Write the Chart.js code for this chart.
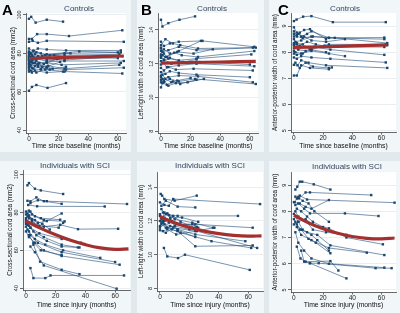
<!DOCTYPE html>
<html>
<head>
<meta charset="utf-8">
<script src="https://cdn.jsdelivr.net/npm/chart.js@4"></script>
<style>
  body { margin: 0; width: 400px; height: 313px; background: #e1e9ed; position: relative; overflow: hidden;
         font-family: "Liberation Sans", Arial, sans-serif; }
  .card { position: absolute; background: #f1f6f8; }
  canvas { position: absolute; }
  .letter { position: absolute; font-weight: bold; font-size: 15px; color: #000; line-height: 1; }
  .ttl { position: absolute; font-size: 8px; color: #34425e; transform: translate(-50%, -50%); white-space: nowrap; }
</style>
</head>
<body>
<div class="card" style="left:0;top:0;width:131px;height:152px"></div>
<div class="card" style="left:137px;top:0;width:127px;height:152px"></div>
<div class="card" style="left:269px;top:0;width:131px;height:152px"></div>
<div class="card" style="left:0;top:161px;width:131px;height:152px"></div>
<div class="card" style="left:137px;top:161px;width:127px;height:152px"></div>
<div class="card" style="left:269px;top:161px;width:131px;height:152px"></div>

<canvas id="a1" width="134" height="153" style="left:0;top:0"></canvas>
<canvas id="b1" width="128" height="153" style="left:137px;top:0"></canvas>
<canvas id="c1" width="132" height="153" style="left:268px;top:0"></canvas>
<canvas id="a2" width="134" height="153" style="left:0;top:160px"></canvas>
<canvas id="b2" width="130" height="153" style="left:137px;top:160px"></canvas>
<canvas id="c2" width="132" height="153" style="left:268px;top:160px"></canvas>

<div class="letter" style="left:2px;top:2px">A</div>
<div class="letter" style="left:141px;top:2px">B</div>
<div class="letter" style="left:278px;top:2px">C</div>

<div class="ttl" style="left:79px;top:8px">Controls</div>
<div class="ttl" style="left:212px;top:8px">Controls</div>
<div class="ttl" style="left:345px;top:8px">Controls</div>
<div class="ttl" style="left:75px;top:165px">Individuals with SCI</div>
<div class="ttl" style="left:210px;top:165px">Individuals with SCI</div>
<div class="ttl" style="left:347px;top:166px">Individuals with SCI</div>

<script>
// tick values
const monthTicks = [0, 20, 40, 60];
const csaTicks = [40, 60, 80, 100];
const lrTicks = [8, 10, 12, 14];
const apTicks = [5, 6, 7, 8, 9];

// controls: each subject = [month, value] visits
const ctrlCsa = [
  [[0,98],[1.5,99],[4.5,96],[12,97.5],[23,96.5]],
  [[0,87.5],[2,87.5],[5.5,90],[12,90],[27,89],[63,92]],
  [[0,86],[2.5,86.5],[6,85.5],[12,86.5],[64,86]],
  [[0,82.5],[3,81],[6,82.5],[12,82],[25,81.5],[62,81.5]],
  [[0,81],[1.5,80],[5,80.5],[11,79],[24,80],[60,80.5]],
  [[0,80],[2,79],[6,78],[12,79.5],[34,81],[62,80.5]],
  [[0,79],[1,78],[4,79.5],[9,78.5],[24,79],[61,79.5]],
  [[0,78],[3,77],[6,78.5],[12,77],[24,76.5],[63,78.5]],
  [[0,77],[1.5,75.5],[5,77],[12,76],[26,77.5],[60,77.5]],
  [[0,76],[2,76.5],[7,75],[12,75.5],[24,76],[64,76]],
  [[0,75],[1,74],[4,73.5],[12,75],[22,74],[62,75]],
  [[0,74],[2,72.5],[6,73],[13,73.5],[24,72],[61,74]],
  [[0,73],[3,72],[8,71.5],[12,72.5],[25,71.5],[64,72.5]],
  [[0,71.5],[1.5,71],[5,70],[11,71.5],[24,70.5],[63,69.5]],
  [[0,70.5],[2,70],[4,71],[12,70],[23,70.5]],
  [[0,80.5],[3,81.5],[8,80],[14,79],[28,80]],
  [[0,78.5],[1,79.5],[3,78],[7,77.5],[17,79],[24,78]],
  [[0,77.5],[2,78],[5,76],[10,74.5],[19,77]],
  [[0,76.5],[1,77],[3,75],[6,74],[12,73],[21,75.5]],
  [[0,74.5],[2.5,75],[6,74.5],[9,73],[16,72]],
  [[0,72.5],[1,73.5],[4,75],[8,72],[14,71.5],[25,73]],
  [[0,60.5],[2,62.5],[5,63.5],[12.5,62],[25,64.5]]
];
const ctrlLr = [
  [[0,14.6],[1,14.2],[5,14.4],[12.5,14.6],[23,14.8]],
  [[0,13.3],[2,13.05],[6,13.2],[12,13.3],[28,13.35],[63,13.0]],
  [[0,13.1],[3,13.45],[8,13.2],[13,13.1],[25,12.9],[62,12.95]],
  [[0,12.9],[1,12.7],[5,12.8],[12,13.0],[24,12.8],[64,12.95]],
  [[0,12.75],[2,12.85],[6,12.6],[11,12.7],[22,12.6],[35,12.85]],
  [[0,12.55],[3,12.4],[9,12.65],[14,12.5],[25,12.4],[63,12.75]],
  [[0,12.35],[1,12.5],[5,12.3],[12,12.2],[24,12.3],[61,12.55]],
  [[0,12.15],[2,12.25],[7,12.0],[12,12.1],[26,12.1],[60,11.95]],
  [[0,11.95],[1.5,12.05],[4,11.8],[12,11.9],[24,12.0],[63,11.85]],
  [[0,11.75],[2,11.6],[5,11.8],[10,11.65],[22,11.7],[62,11.6]],
  [[0,11.5],[3,11.4],[6,11.55],[12,11.45],[24,11.35],[60,11.2]],
  [[0,11.3],[1,11.1],[5,11.2],[12,11.3],[25,11.25],[62,10.9]],
  [[0,11.05],[2,10.9],[6,11.1],[12,10.95],[23,11.1],[64,10.8]],
  [[0,10.6],[1,10.85],[4,10.75],[8,10.95],[13,10.8],[24,11.05]],
  [[0,10.9],[2,11.0],[5,10.7],[10,10.85],[18,10.9],[29,11.1]],
  [[0,12.95],[2,12.6],[4,12.4],[12,12.75],[27,13.35]],
  [[0,11.2],[1,11.35],[3,11.1],[7,10.9],[11,11.0],[20,11.15]],
  [[0,12.45],[2,12.2],[6,12.35],[15,12.1],[24,12.25]]
];
const ctrlAp = [
  [[0,9.19],[1.8,9.25],[6.3,9.36],[12,9.38],[26.7,9.15],[63,9.15]],
  [[0,8.95],[2,8.75],[5,8.6],[9,8.7],[12,8.8],[24,8.55],[62,8.56]],
  [[0,8.7],[2,8.6],[6,8.55],[13,8.6],[24,8.55],[62,8.5]],
  [[0,8.6],[3,8.7],[7,8.6],[12,8.45],[22,8.4],[35,8.5]],
  [[0,8.5],[1,8.4],[5,8.45],[12,8.6],[28,8.55],[64,8.35]],
  [[0,8.35],[2,8.3],[6,8.2],[12,8.15],[24,8.3],[63,8.3]],
  [[0,8.3],[4,8.25],[9,8.4],[15,8.3],[24,8.2],[62,8.2]],
  [[0,8.25],[2,8.35],[6,8.3],[12,8.1],[21,8.25],[64,8.27]],
  [[0,8.15],[3,8.1],[8,8.05],[14,8.2],[25,8.1],[62,7.9]],
  [[0,8.05],[1,8.0],[5,7.95],[12,8.05],[24,7.95],[35,7.85]],
  [[0,7.95],[2,7.9],[6,7.95],[11,8.1],[22,8.0]],
  [[0,7.8],[2,7.75],[5,7.85],[12,7.8],[25,7.75],[63,7.61]],
  [[0,7.52],[2.5,7.5],[5,7.69],[10,7.6],[22,7.5],[64,7.4]],
  [[0,7.11],[2,7.11],[5,7.5],[11,7.4],[24,7.35],[26,7.42]],
  [[1,7.6],[4,7.4],[8,7.6],[13,7.45],[24,7.4]],
  [[0,8.8],[2,8.65],[4,8.75],[7,8.85],[11,8.88],[22,8.5]]
];

// individuals with SCI
const sciCsa = [
  [[1,94.4],[2,95.6],[6,92.6],[10,91.7],[25,89.8]],
  [[1,86.2],[3,85.9],[7,88],[12,86],[24,84.6]],
  [[3,85],[8,86.5],[14,86],[68,84.5]],
  [[1.5,84],[7.5,83.3],[53,83.2]],
  [[0,80.5],[2,81],[4,79],[10,77],[23,76.2]],
  [[0,79],[3,80.5],[6,78],[12,76],[26,75.3]],
  [[1,78],[4,76.5],[8,74.5],[14,75.5],[24,79.5]],
  [[0,77],[2,78.5],[5,74],[12,72.5],[23,73.5],[35,71.2],[62,71.4]],
  [[0,76],[1,74],[3,72],[9,69],[24,66],[37,64]],
  [[0,75],[2,73],[5,70],[12,67],[24,63],[35,61.5]],
  [[1,73.5],[3,72],[7,68],[14,65],[24,62],[36,61.5]],
  [[0,72.5],[2,70],[6,66],[13,63],[25,60],[50,56]],
  [[1,71],[3,68],[8,64],[24,59],[60,53.8]],
  [[0,70],[2,67],[6,64],[12,60],[24,57],[63,52.4]],
  [[2,68],[5,64],[10,60],[24,57.5]],
  [[5,63],[9.5,54],[24,49.7],[36,47.4]],
  [[3,62],[6,59],[12,52],[61,39.7]],
  [[3,50.6],[5,45.3],[13,45.3],[16.5,46.7],[66,46.7]],
  [[0,74],[2,77],[4,75.5],[9,73],[22,72],[25,74.5]],
  [[1,79.5],[2,78],[6,76],[11,74],[16,71]]
];
const sciLr = [
  [[0.5,13.6],[1.5,13.5],[3,13.3],[10,13.2],[25,13.5]],
  [[0,13.1],[3,12.95],[6,12.9],[9,13.3],[68,13.0]],
  [[1,12.9],[4,13.2],[12,12.85],[24,12.8]],
  [[2,12.5],[6,12.35],[12,12.3],[53,12.3]],
  [[0,12.4],[3,12.2],[8,12.0],[13,11.8],[24,11.8],[63,11.6]],
  [[1,12.2],[5,12.45],[10,12.1],[22,11.9],[36,11.6]],
  [[0,12.0],[2,11.9],[7,11.7],[12,11.5],[24,11.2],[58,10.8]],
  [[1,11.8],[4,11.6],[12,11.4],[24,10.5],[63,10.55]],
  [[0,11.6],[3,11.8],[8,11.5],[14,11.3],[35,10.8],[62,10.4]],
  [[2,11.4],[5,11.5],[11,11.2],[25,11.4],[66,10.4]],
  [[2.7,10.4],[5,9.9],[12.3,9.8],[17,10.0],[61,9.1]],
  [[0,12.3],[1,12.1],[6,11.9],[11,11.8],[22,11.8],[25,11.65]],
  [[1,11.9],[3,12.5],[9,12.3],[14,11.95],[24,11.6]],
  [[0,11.7],[2,12.0],[5,11.6],[10,11.7],[20,11.5],[26,11.6]],
  [[1,12.7],[4,12.4],[7,12.2],[15,12.2],[26,11.95]],
  [[0,11.45],[4,11.3],[9,11.6],[24,11.4],[37,11.6]],
  [[3,12.0],[7,12.1],[12,11.45],[24,11.05]]
];
const sciAp = [
  [[1,8.83],[2.3,8.94],[4,9.13],[5.7,9.13],[13.6,9.03],[25,8.83]],
  [[1,8.56],[3.4,8.49],[8,8.72],[11,8.72],[53,8.62]],
  [[2,8.49],[4,8.6],[9,8.45],[69,8.33]],
  [[1,8.24],[4,8.3],[8,8.17],[12,8.1],[24,8.43]],
  [[0,8.35],[3,8.3],[7,8.1],[11,7.92],[35,7.92],[58,7.82]],
  [[0,7.5],[3,7.6],[8,7.7],[13,7.5],[24,7.35],[36,7.0],[61,6.74]],
  [[1,7.6],[4,7.3],[9,7.2],[16,7.1],[25,6.7],[62,6.33]],
  [[2,7.4],[5,7.1],[12,6.9],[24,6.6],[50,6.42]],
  [[2,6.65],[4.5,6.2],[8,6.08],[25,6.1],[30.5,5.74]],
  [[5,6.5],[7,6.08],[11,6.02],[36,5.44]],
  [[11,6.02],[17,6.02],[56,5.83],[67,5.83]],
  [[0,7.9],[3,7.6],[6,7.3],[12,7.1],[16,6.9],[24,6.5]],
  [[1,8.0],[3,7.8],[8,7.65],[13,7.3],[22,7.2],[36,7.1]],
  [[0,7.7],[2,7.5],[5,7.3],[10,6.95],[15,6.8],[25,6.4]],
  [[1,7.2],[3,6.8],[7,6.5],[12,6.2],[24,6.0],[62,5.85]],
  [[0.5,8.35],[3,8.55],[6,8.4],[10,8.3],[14,8.0],[24,7.6]],
  [[2,8.1],[5,8.0],[9,7.8],[13,7.6],[20,7.4]]
];

// fitted mean curves
const ctrlCsaFit = [[0,77.3],[20,77.8],[40,78.2],[64,78.6]];
const ctrlLrFit = [[0,12.03],[20,12.07],[40,12.1],[64,12.14]];
const ctrlApFit = [[0,8.18],[20,8.21],[40,8.24],[64,8.28]];
const sciCsaFit = [[0,75.5],[10,71.6],[20,68.2],[30,65.3],[40,63],[50,61.3],[60,60.5],[69,60.8]];
const sciLrFit = [[0,12.25],[10,11.9],[20,11.62],[30,11.4],[40,11.25],[50,11.15],[60,11.1],[69,11.12]];
const sciApFit = [[0,7.85],[10,7.56],[20,7.33],[30,7.16],[40,7.04],[50,6.97],[60,6.95],[69,6.98]];

const NAVY = '#1a476f';
const FONT = '"Liberation Sans", Arial, sans-serif';

// white plot region behind the data
const plotBg = {
  id: 'plotBg',
  beforeDraw(chart) {
    const a = chart.chartArea, ctx = chart.ctx;
    ctx.save();
    ctx.fillStyle = '#fff';
    ctx.fillRect(a.left, a.top, a.right - a.left, a.bottom - a.top);
    ctx.restore();
  }
};

// draws the y tick labels turned on their side, as in the original
const sideYLabels = {
  id: 'sideYLabels',
  afterDraw(chart) {
    const s = chart.scales.y, ctx = chart.ctx;
    ctx.save();
    ctx.font = '5.5px ' + FONT;
    ctx.fillStyle = '#222';
    ctx.textAlign = 'center';
    ctx.textBaseline = 'bottom';
    s.ticks.forEach(t => {
      ctx.save();
      ctx.translate(s.right - 3.5, s.getPixelForValue(t.value));
      ctx.rotate(-Math.PI / 2);
      ctx.fillText(String(t.value), 0, 0);
      ctx.restore();
    });
    ctx.restore();
  }
};

function toXY(pts) { return pts.map(p => ({x: p[0], y: p[1]})); }

// box = canvas [left, top, w, h]; area = plot [left, right, top, bottom], page pixels
function panel(id, subjects, fit, yTicks, yMin, yMax, xMax, box, area, yTitle, xTitle, yTitlePad, xTitlePad) {
  const datasets = [{
    data: toXY(fit), showLine: true, borderColor: '#a3302e', borderWidth: 3.2,
    pointRadius: 0, tension: 0.4
  }];
  subjects.forEach(s => datasets.push({
    data: toXY(s), showLine: true, borderColor: 'rgba(30,75,118,0.85)', borderWidth: 0.7,
    pointStyle: 'rect', pointRadius: 1.7, pointBorderWidth: 0, pointBackgroundColor: NAVY
  }));
  new Chart(document.getElementById(id), {
    type: 'scatter',
    data: {datasets},
    options: {
      responsive: false, animation: false,
      layout: {padding: {left: 0, top: area[2] - box[1], right: box[0] + box[2] - area[1], bottom: 0}},
      plugins: {legend: {display: false}, tooltip: {enabled: false}},
      scales: {
        x: {
          type: 'linear', min: -2, max: xMax,
          afterBuildTicks: sc => { sc.ticks = monthTicks.map(v => ({value: v})); },
          afterFit: sc => { sc.height = box[1] + box[3] - area[3]; },
          grid: {drawOnChartArea: false, tickColor: '#444', tickLength: 2.5, lineWidth: 0.8},
          border: {color: '#444', width: 0.8},
          ticks: {font: {family: FONT, size: 6.5}, color: '#222', padding: 0, maxRotation: 0, autoSkip: false},
          title: {display: true, text: xTitle, font: {family: FONT, size: 6.8}, color: '#111', padding: {top: 0, bottom: xTitlePad}}
        },
        y: {
          type: 'linear', min: yMin, max: yMax,
          afterBuildTicks: sc => { sc.ticks = yTicks.map(v => ({value: v})); },
          afterFit: sc => { sc.width = area[0] - box[0]; },
          grid: {color: '#e4eaee', lineWidth: 0.8, tickColor: '#444', tickLength: 3},
          border: {color: '#444', width: 0.8},
          ticks: {display: false},
          title: {display: true, text: yTitle, font: {family: FONT, size: 6.3}, color: '#111', padding: {top: yTitlePad, bottom: 0}}
        }
      }
    },
    plugins: [plotBg, sideYLabels]
  });
}

const base = 'Time since baseline (months)', inj = 'Time since injury (months)';
const csaT = 'Cross-sectional cord area (mm2)', lrT = 'Left-right width of cord area (mm)', apT = 'Anterior-posterior width of cord area (mm)';

panel('a1', ctrlCsa, ctrlCsaFit, csaTicks, 38.5, 101, 65.5, [0,0,134,153], [26,126,13,133], csaT, base, 9, 3);
panel('b1', ctrlLr, ctrlLrFit, lrTicks, 7.9, 15, 65.5, [137,0,128,153], [158,258,13,133], lrT, base, 0, 3);
panel('c1', ctrlAp, ctrlApFit, apTicks, 4.95, 9.5, 70, [268,0,132,153], [291,397,13,132], apT, base, 3, 3);
panel('a2', sciCsa, sciCsaFit, csaTicks, 39, 102.5, 70, [0,160,134,153], [23,130,170,290], csaT, inj, 6, 4);
panel('b2', sciLr, sciLrFit, lrTicks, 7.85, 14.9, 70, [137,160,130,153], [157,263,172,291], lrT, inj, 0, 4);
panel('c2', sciAp, sciApFit, apTicks, 4.92, 9.5, 70, [268,160,132,153], [291,397,172,292], apT, inj, 3, 4);
</script>
</body>
</html>
